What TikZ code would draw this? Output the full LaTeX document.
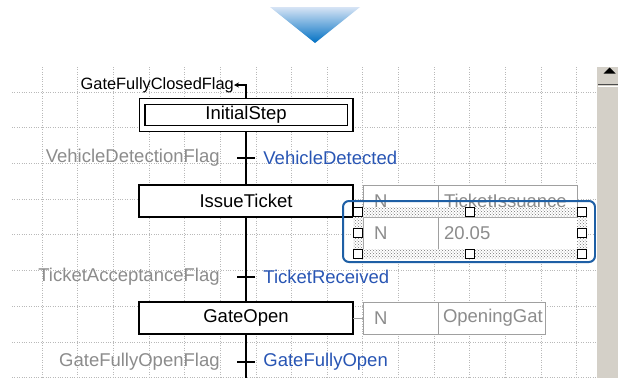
\documentclass[tikz,border=0pt]{standalone}
\usepackage{fontspec}
\setmainfont{Liberation Sans}
\usepackage{tikz}
\usetikzlibrary{arrows.meta, positioning, fit, calc, patterns}
\definecolor{colGrid}{RGB}{185,185,185}
\definecolor{colFlag}{RGB}{140,140,140}
\definecolor{colCond}{RGB}{40,85,180}
\definecolor{colCell}{RGB}{160,160,160}
\definecolor{colSel}{RGB}{30,95,165}
\definecolor{colBar}{RGB}{212,208,200}
\definecolor{colTriTop}{RGB}{215,228,245}
\definecolor{colTriBot}{RGB}{0,112,195}

\begin{document}
\begin{tikzpicture}[
  x=1pt, y=-1pt,
  font=\fontsize{18.5}{22}\selectfont,
  sfcstep/.style={rectangle, draw, fill=white, line width=1.2pt,
                  minimum width=214pt, minimum height=32pt,
                  inner sep=0pt, outer sep=0pt},
  initstep/.style={sfcstep, double, double distance=4.6pt,
                   minimum width=208pt, minimum height=27pt},
  trans/.style={rectangle, fill=black, minimum width=18pt,
                minimum height=1.3pt, inner sep=0pt},
  flag/.style={text=colFlag, inner sep=0pt},
  cond/.style={text=colCond, inner sep=0pt},
  qual/.style={rectangle, draw=colCell, line width=0.9pt, fill=white,
               text=colFlag, minimum height=32pt, text width=53pt,
               inner xsep=11pt, inner ysep=0pt, outer sep=0pt, align=left},
  act/.style={qual, text width=127pt, inner xsep=6pt},
  handle/.style={rectangle, draw, fill=white, line width=1.3pt,
                 minimum size=9pt, inner sep=0pt},
  selband/.style={fill=white, even odd rule,
                  postaction={pattern=crosshatch dots, pattern color=black!55,
                              even odd rule}},
  selframe/.style={draw=colSel, line width=2pt, rounded corners=6pt},
  gridline/.style={colGrid, line width=0.8pt, dash pattern=on 1pt off 1.4pt},
  link/.style={line width=1.2pt},
  cellline/.style={draw=colCell, line width=0.9pt},
  arr/.style={-{Stealth[length=5pt, width=5pt]}, line width=1.1pt},
]
\useasboundingbox[fill=white] (0,0) rectangle (618,378);

% grid
\foreach \i in {0,...,15}
  \draw[gridline] ({42+35.65*\i},67) -- ({42+35.65*\i},378);
\foreach \j in {0,...,8}
  \draw[gridline] (12,{92+35.7*\j}) -- (596,{92+35.7*\j});

% pointer
\shade[top color=colTriTop, bottom color=colTriBot]
  (270,7) -- (360,7) -- (315,43) -- cycle;

% steps
\node[initstep] (init) at (246,115) {InitialStep};
\node[sfcstep, below=56.5pt of init] (issue) {IssueTicket};
\node[sfcstep, below=85pt of issue] (open) {GateOpen};
\coordinate (bottom) at (246,378);

\node[anchor=east, inner sep=0pt, font=\fontsize{16.4}{19}\selectfont]
  (closedflag) at (234,85) {GateFullyClosedFlag};

% links
\draw[arr] ([yshift=2.5pt]init.north) |- (closedflag.east);
\draw[link] ([yshift=-2.5pt]init.south) -- (issue.north);
\draw[link] (issue.south) -- (open.north);
\draw[link] (open.south) -- (bottom);

% transitions
\node[trans] (t1) at (246,158) {};
\node[trans] (t2) at (246,277) {};
\node[trans] (t3) at (246,362) {};

\node[flag, left=17pt of t1] (f1) {VehicleDetectionFlag};
\node[cond, right=8pt of t1] (c1) {VehicleDetected};
\node[flag, left=17pt of t2] (f2) {TicketAcceptanceFlag};
\node[cond, right=8pt of t2] (c2) {TicketReceived};
\node[flag, left=17pt of t3] (f3) {GateFullyOpenFlag};
\node[cond, right=8pt of t3] (c3) {GateFullyOpen};

% actions
\node[qual, right=10pt of issue] (q1) {N};
\node[act, right=0pt of q1] (a1) {TicketIssuance};
\node[qual, below=0pt of q1] (q2) {N};
\node[act, below=0pt of a1] (a2) {20.05};
\draw[cellline] (issue) -- (q1);

\node[qual, right=10pt of open] (q3) {N};
\node[act, text width=97pt, inner xsep=5pt, right=0pt of q3] (a3) {OpeningGat};
\draw[cellline] (open) -- (q3);

% selection
\node[fit=(q2)(a2), inner sep=5pt, outer sep=0pt] (sel) {};
\path[selband] ([shift={(-5pt,5pt)}]sel.north west) rectangle ([shift={(5pt,-5pt)}]sel.south east)
  (q2.north west) rectangle (a2.south east);
\foreach \a in {north west, north, north east, west, east, south west, south, south east}
  \node[handle] at (sel.\a) {};
\draw[selframe] ([shift={(-15pt,11pt)}]sel.north west) rectangle ([shift={(13pt,-8pt)}]sel.south east);

% scrollbar
\fill[colBar] (596,67) rectangle (618,378);
\draw[white, line width=1pt] (596.5,67) -- (596.5,378);
\draw[gray!60!black, line width=1pt] (598,84.5) -- (618,84.5);
\draw[white, line width=1pt] (598,86.5) -- (618,86.5);
\fill (603.5,73.5) -- (615.5,73.5) -- (609.5,67.5) -- cycle;

\end{tikzpicture}
\end{document}
